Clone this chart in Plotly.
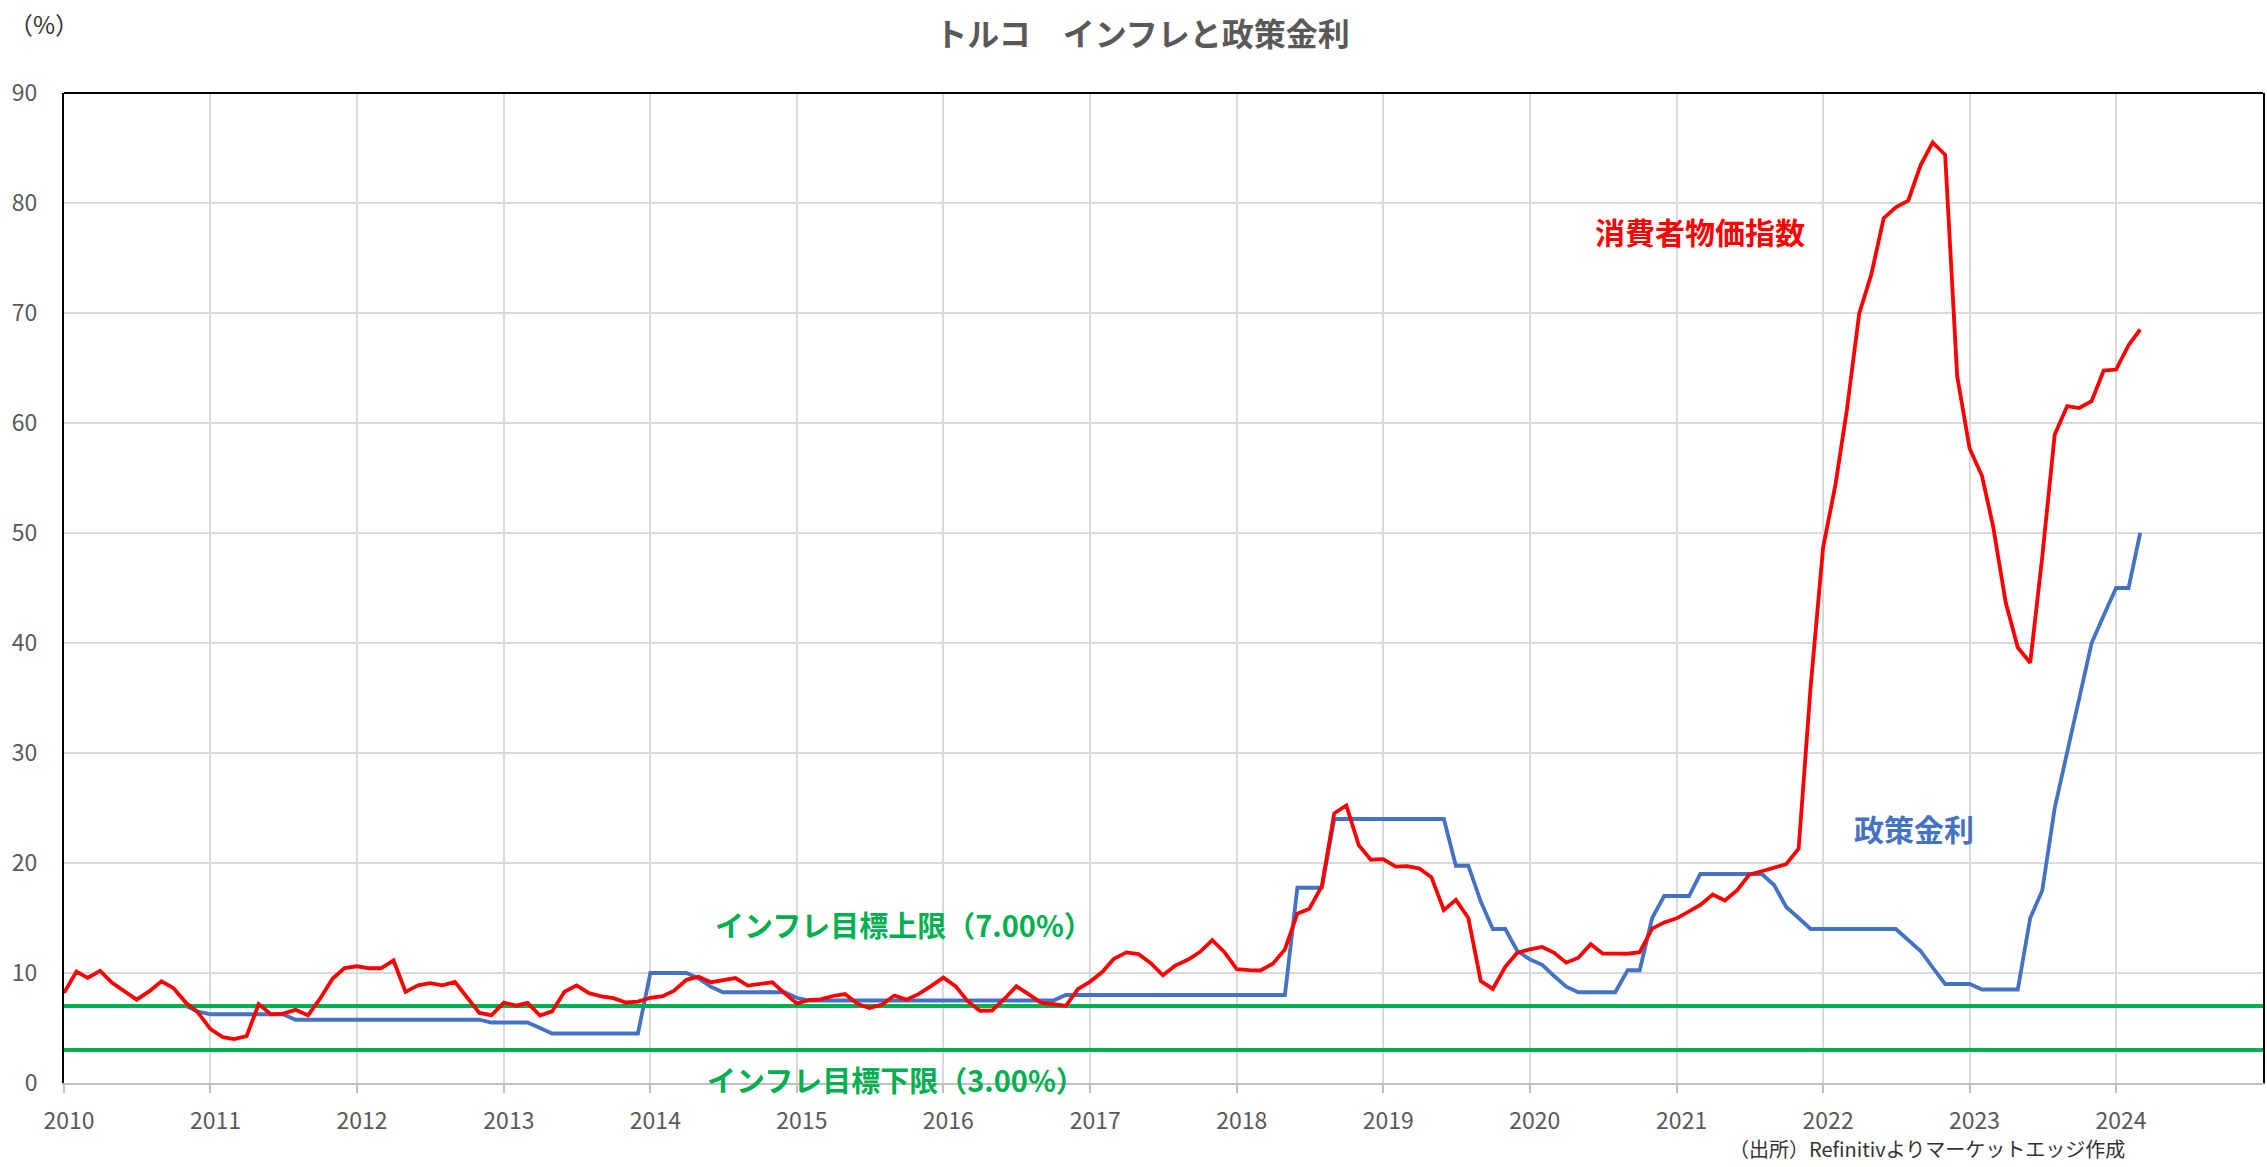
import plotly.graph_objects as go

# ---------------- data ----------------
CPI_START = "2010-01-01"
cpi_yoy = [
    # 2010
    8.19, 10.13, 9.56, 10.19, 9.10, 8.37, 7.58, 8.33, 9.24, 8.62, 7.29, 6.40,
    # 2011
    4.90, 4.16, 3.99, 4.26, 7.17, 6.24, 6.31, 6.65, 6.15, 7.66, 9.48, 10.45,
    # 2012
    10.61, 10.43, 10.43, 11.14, 8.28, 8.87, 9.07, 8.88, 9.19, 7.80, 6.37, 6.16,
    # 2013
    7.31, 7.03, 7.29, 6.13, 6.51, 8.30, 8.88, 8.17, 7.88, 7.71, 7.32, 7.40,
    # 2014
    7.75, 7.89, 8.39, 9.38, 9.66, 9.16, 9.32, 9.54, 8.86, 8.96, 9.15, 8.17,
    # 2015
    7.24, 7.55, 7.61, 7.91, 8.09, 7.20, 6.81, 7.14, 7.95, 7.58, 8.10, 8.81,
    # 2016
    9.58, 8.78, 7.46, 6.57, 6.58, 7.64, 8.79, 8.05, 7.28, 7.16, 7.00, 8.53,
    # 2017
    9.22, 10.13, 11.29, 11.87, 11.72, 10.90, 9.79, 10.68, 11.20, 11.90, 12.98, 11.92,
    # 2018
    10.35, 10.26, 10.23, 10.85, 12.15, 15.39, 15.85, 17.90, 24.52, 25.24, 21.62, 20.30,
    # 2019
    20.35, 19.67, 19.71, 19.50, 18.71, 15.72, 16.65, 15.01, 9.26, 8.55, 10.56, 11.84,
    # 2020
    12.15, 12.37, 11.86, 10.94, 11.39, 12.62, 11.76, 11.77, 11.75, 11.89, 14.03, 14.60,
    # 2021
    14.97, 15.61, 16.19, 17.14, 16.59, 17.53, 18.95, 19.25, 19.58, 19.89, 21.31, 36.08,
    # 2022
    48.69, 54.44, 61.14, 69.97, 73.50, 78.62, 79.60, 80.21, 83.45, 85.51, 84.39, 64.27,
    # 2023
    57.68, 55.18, 50.51, 43.68, 39.59, 38.21, 47.83, 58.94, 61.53, 61.36, 61.98, 64.77,
    # 2024
    64.86, 67.07, 68.50,
]

RATE_START = "2010-05-01"
policy_rate = [
    # 2010 May-Dec
    7.00, 7.00, 7.00, 7.00, 7.00, 7.00, 7.00, 6.50,
    # 2011
    6.25, 6.25, 6.25, 6.25, 6.25, 6.25, 6.25, 5.75, 5.75, 5.75, 5.75, 5.75,
    # 2012
    5.75, 5.75, 5.75, 5.75, 5.75, 5.75, 5.75, 5.75, 5.75, 5.75, 5.75, 5.50,
    # 2013
    5.50, 5.50, 5.50, 5.00, 4.50, 4.50, 4.50, 4.50, 4.50, 4.50, 4.50, 4.50,
    # 2014
    10.00, 10.00, 10.00, 10.00, 9.50, 8.75, 8.25, 8.25, 8.25, 8.25, 8.25, 8.25,
    # 2015
    7.75, 7.50, 7.50, 7.50, 7.50, 7.50, 7.50, 7.50, 7.50, 7.50, 7.50, 7.50,
    # 2016
    7.50, 7.50, 7.50, 7.50, 7.50, 7.50, 7.50, 7.50, 7.50, 7.50, 8.00, 8.00,
    # 2017
    8.00, 8.00, 8.00, 8.00, 8.00, 8.00, 8.00, 8.00, 8.00, 8.00, 8.00, 8.00,
    # 2018
    8.00, 8.00, 8.00, 8.00, 8.00, 17.75, 17.75, 17.75, 24.00, 24.00, 24.00, 24.00,
    # 2019
    24.00, 24.00, 24.00, 24.00, 24.00, 24.00, 19.75, 19.75, 16.50, 14.00, 14.00, 12.00,
    # 2020
    11.25, 10.75, 9.75, 8.75, 8.25, 8.25, 8.25, 8.25, 10.25, 10.25, 15.00, 17.00,
    # 2021
    17.00, 17.00, 19.00, 19.00, 19.00, 19.00, 19.00, 19.00, 18.00, 16.00, 15.00, 14.00,
    # 2022
    14.00, 14.00, 14.00, 14.00, 14.00, 14.00, 14.00, 13.00, 12.00, 10.50, 9.00, 9.00,
    # 2023
    9.00, 8.50, 8.50, 8.50, 8.50, 15.00, 17.50, 25.00, 30.00, 35.00, 40.00, 42.50,
    # 2024
    45.00, 45.00, 50.00,
]

target_upper = 7.0
target_lower = 3.0

tick_years = list(range(2010, 2025))
x_range = ["2010-01-01", "2025-01-01"]

title_text = "トルコ　インフレと政策金利"
label_cpi = "消費者物価指数"
label_rate = "政策金利"
label_upper = "インフレ目標上限（7.00%）"
label_lower = "インフレ目標下限（3.00%）"
source_text = "（出所）Refinitivよりマーケットエッジ作成"
unit_text = "（%）"


def month_dates(start, n):
    y, m = int(start[:4]), int(start[5:7])
    out = []
    for _ in range(n):
        out.append(f"{y:04d}-{m:02d}-01")
        m += 1
        if m > 12:
            m = 1
            y += 1
    return out


cpi_x = month_dates(CPI_START, len(cpi_yoy))
rate_x = month_dates(RATE_START, len(policy_rate))

FONT = "Noto Sans CJK JP"
RED = "#FF0000"
BLUE = "#4472C4"
GREEN = "#00B050"
GREY_TXT = "#595959"

fig = go.Figure()

fig.add_trace(go.Scatter(x=rate_x, y=policy_rate, mode="lines",
                         line=dict(color=BLUE, width=3.8), name=label_rate))
fig.add_trace(go.Scatter(x=x_range, y=[target_upper, target_upper], mode="lines",
                         line=dict(color=GREEN, width=3.8), name=label_upper))
fig.add_trace(go.Scatter(x=x_range, y=[target_lower, target_lower], mode="lines",
                         line=dict(color=GREEN, width=3.8), name=label_lower))
fig.add_trace(go.Scatter(x=cpi_x, y=cpi_yoy, mode="lines",
                         line=dict(color=RED, width=3.8), name=label_cpi))

fig.update_layout(
    width=2267, height=1167,
    margin=dict(l=64, r=2, t=93, b=84),
    paper_bgcolor="white", plot_bgcolor="white",
    showlegend=False,
    font=dict(family=FONT, color=GREY_TXT),
    title=dict(text=f"<b>{title_text}</b>", x=0.504, xanchor="center",
               y=0.970, yanchor="middle",
               font=dict(family=FONT, size=32, color=GREY_TXT)),
)

fig.update_xaxes(
    type="date", range=x_range,
    tickvals=[f"{y}-01-01" for y in tick_years],
    ticktext=[str(y) for y in tick_years],
    showgrid=True, gridcolor="#D9D9D9", gridwidth=1.5,
    showline=True, linecolor="#BFBFBF", linewidth=2,
    ticks="outside", ticklen=8, tickcolor="#BFBFBF", tickwidth=2,
    tickfont=dict(family=FONT, size=23, color=GREY_TXT),
    ticklabelstandoff=8, ticklabelshift=5,
    zeroline=False,
)
fig.update_yaxes(
    range=[0, 90], dtick=10, tick0=0,
    showgrid=True, gridcolor="#D9D9D9", gridwidth=1.5,
    showline=True, linecolor="black", linewidth=2, mirror=True,
    ticks="", tickfont=dict(family=FONT, size=23, color=GREY_TXT),
    ticklabelstandoff=20,
    zeroline=False,
)

# top border of plot area
fig.add_shape(type="line", xref="paper", yref="paper", x0=0, x1=1, y0=1, y1=1,
              line=dict(color="black", width=2))

fig.add_annotation(x="2021-03-01", y=77.5, text=f"<b>{label_cpi}</b>", showarrow=False,
                   font=dict(family=FONT, size=30, color=RED), xanchor="center", yanchor="middle")
fig.add_annotation(x="2022-08-15", y=23.2, text=f"<b>{label_rate}</b>", showarrow=False,
                   font=dict(family=FONT, size=30, color=BLUE), xanchor="center", yanchor="middle")
fig.add_annotation(x="2015-09-25", y=14.5, text=f"<b>{label_upper}</b>", showarrow=False,
                   font=dict(family=FONT, size=29, color=GREEN), xanchor="center", yanchor="middle")
fig.add_annotation(x="2015-09-05", y=0.4, text=f"<b>{label_lower}</b>", showarrow=False,
                   font=dict(family=FONT, size=29, color=GREEN), xanchor="center", yanchor="middle")
fig.add_annotation(xref="paper", yref="paper", x=0.847, y=-0.066, text=source_text,
                   showarrow=False, font=dict(family=FONT, size=20, color="#333333"),
                   xanchor="center", yanchor="middle")
fig.add_annotation(xref="paper", yref="paper", x=-0.009, y=1.0707, text=unit_text,
                   showarrow=False, font=dict(family=FONT, size=24, color="#333333"),
                   xanchor="center", yanchor="middle")

fig.write_html("out.html", config={"displayModeBar": False},
               post_script="document.body.style.margin='0';document.body.style.overflow='hidden';")
